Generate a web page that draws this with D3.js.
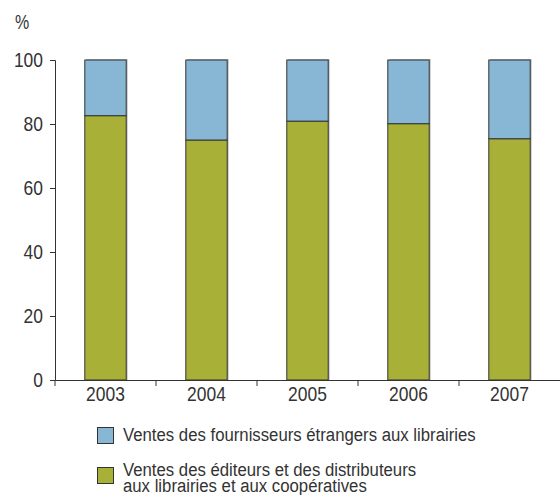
<!DOCTYPE html>
<html>
<head>
<meta charset="utf-8">
<script src="https://cdn.jsdelivr.net/npm/d3@7"></script>
<style>
  body { margin: 0; background: white; }
  text { font-family: "Liberation Sans", Arial, sans-serif; fill: #333; }
</style>
</head>
<body>
<div id="chart"></div>
<script>
// Données
const years = ["2003", "2004", "2005", "2006", "2007"];
const editeurs = [82.6, 75.0, 80.9, 80.1, 75.4];
const etrangers = [17.4, 25.0, 19.1, 19.9, 24.6];
const yTicks = [0, 20, 40, 60, 80, 100];
const seriesNames = [
  ["Ventes des fournisseurs étrangers aux librairies"],
  ["Ventes des éditeurs et des distributeurs", "aux librairies et aux coopératives"]
];
const colors = ["#87b7d5", "#a9b038"];

const width = 560, height = 495;
const margin = { left: 55, right: 0 };

const svg = d3.select("#chart").append("svg")
  .attr("width", width).attr("height", height);

// Police condensée simulée : on resserre le texte horizontalement
const condense = (sel, factor) => {
  sel.each(function () {
    const len = this.getComputedTextLength();
    d3.select(this).attr("textLength", len * factor).attr("lengthAdjust", "spacingAndGlyphs");
  });
};

const x = d3.scaleBand().domain(years)
  .range([margin.left, width - margin.right])
  .paddingInner(0.59).paddingOuter(0.295);
const y = d3.scaleLinear().domain([0, 100]).range([380, 60]);

const stacked = years.map((yr, i) => ({ year: yr, a: editeurs[i], b: etrangers[i] }));

// Ombre des barres
svg.append("g").selectAll("rect").data(stacked).enter().append("rect")
  .attr("x", d => x(d.year) + 1.5).attr("y", y(100) - 1)
  .attr("width", x.bandwidth()).attr("height", y(0) - y(100) + 1)
  .attr("fill", "#999").attr("opacity", 0.6);

// Barres
const bars = svg.append("g");
bars.selectAll("rect.a").data(stacked).enter().append("rect")
  .attr("class", "a")
  .attr("x", d => x(d.year)).attr("y", d => y(d.a))
  .attr("width", x.bandwidth()).attr("height", d => y(0) - y(d.a))
  .attr("fill", colors[1]).attr("stroke", "#333").attr("stroke-width", 1);
bars.selectAll("rect.b").data(stacked).enter().append("rect")
  .attr("class", "b")
  .attr("x", d => x(d.year)).attr("y", d => y(d.a + d.b))
  .attr("width", x.bandwidth()).attr("height", d => y(d.a) - y(d.a + d.b))
  .attr("fill", colors[0]).attr("stroke", "#333").attr("stroke-width", 1);

// Axe Y
const yAxis = svg.append("g").attr("transform", `translate(${margin.left},0)`)
  .call(d3.axisLeft(y).tickValues(yTicks).tickSize(5).tickPadding(7));
yAxis.select(".domain").attr("stroke", "#333");
yAxis.selectAll(".tick line").attr("stroke", "#333");
yAxis.selectAll("text").attr("font-family", null).style("font-size", "21px")
  .attr("fill", "#333").attr("dy", "0.32em");
condense(yAxis.selectAll("text"), 0.83);

const pct = svg.append("text").attr("x", 15).attr("y", 29).style("font-size", "20px").text("%");
condense(pct, 0.8);

// Axe X
const xAxis = svg.append("g").attr("transform", `translate(0,${y(0)})`)
  .call(d3.axisBottom(x).tickSize(0).tickPadding(6));
xAxis.select(".domain").attr("stroke", "#333");
xAxis.selectAll("text").attr("font-family", null).style("font-size", "21px").attr("fill", "#333");
condense(xAxis.selectAll("text"), 0.83);
const gap = (x.step() - x.bandwidth()) / 2;
svg.append("g").selectAll("line").data(years).enter().append("line")
  .attr("x1", d => x(d) - gap).attr("x2", d => x(d) - gap)
  .attr("y1", y(0)).attr("y2", y(0) + 6)
  .attr("stroke", "#333");

// Légende (un seul <text> par entrée, lignes en <tspan>)
const legend = svg.append("g");
const legY = [427, 467];
const legBase = [441, 476];
seriesNames.forEach((lines, i) => {
  legend.append("rect").attr("x", 97.5).attr("y", legY[i] + 0.5)
    .attr("width", 16).attr("height", 16)
    .attr("fill", colors[i]).attr("stroke", "#333");
  const t = legend.append("text").attr("x", 123).attr("y", legBase[i])
    .style("font-size", "18px");
  lines.forEach((line, j) => {
    const ts = t.append("tspan").attr("x", 123).attr("dy", j === 0 ? 0 : 16).text(line);
    condense(ts, 0.93);
  });
});
</script>
</body>
</html>
